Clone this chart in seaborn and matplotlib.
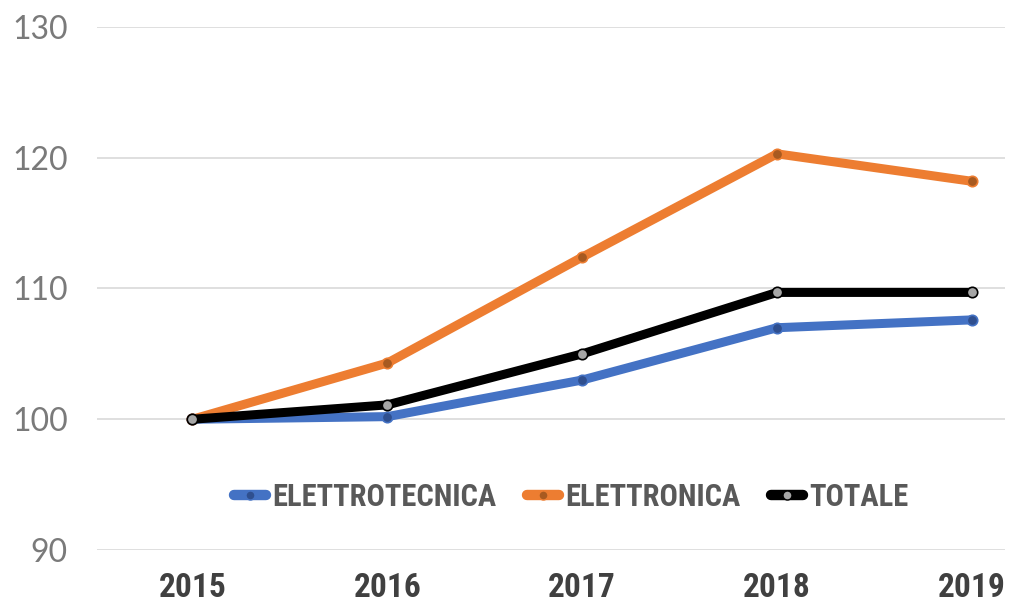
import matplotlib
matplotlib.use("Agg")
import matplotlib.pyplot as plt
import seaborn as sns
import pandas as pd
from matplotlib.lines import Line2D

years = ["2015", "2016", "2017", "2018", "2019"]
elettrotecnica = [100.0, 100.2, 103.0, 107.0, 107.6]
elettronica = [100.0, 104.3, 112.4, 120.3, 118.2]
totale = [100.0, 101.1, 105.0, 109.7, 109.7]
series_names = ["ELETTROTECNICA", "ELETTRONICA", "TOTALE"]
colors = ["#4472C4", "#ED7D31", "#000000"]
marker_faces = ["#2F4F8F", "#A85A20", "#A6A6A6"]
y_ticks = [90, 100, 110, 120, 130]

sns.set_theme(style="white")
cond = ['Roboto Condensed', 'Liberation Sans Narrow', 'Roboto', 'DejaVu Sans']
plt.rcParams['font.family'] = cond

fig = plt.figure(figsize=(10.12, 6.04), dpi=100)
ax = fig.add_axes([97/1012, 1-550/604, (1005-97)/1012, (550-27)/604])

for name, vals, col, mf in zip(series_names, [elettrotecnica, elettronica, totale], colors, marker_faces):
    df = pd.DataFrame({"x": list(range(len(years))), "y": vals})
    sns.lineplot(data=df, x="x", y="y", ax=ax, color=col, linewidth=6.5,
                 marker="o", markersize=7.5, markerfacecolor=mf, markeredgecolor=col,
                 markeredgewidth=1.2, clip_on=False, zorder=3,
                 solid_capstyle="round", solid_joinstyle="round")

ax.set_xlim(-0.49, 4.17)
ax.set_ylim(90, 130)
ax.set_yticks(y_ticks)
ax.set_yticklabels([str(v) for v in y_ticks], family=["Lato", "DejaVu Sans"],
                   fontweight="normal", fontsize=23, color="#7A7A7A")
ax.set_xticks(range(len(years)))
ax.set_xticklabels(years, fontsize=24, fontweight="bold", color="#404040")
ax.tick_params(axis="y", length=0, pad=21)
ax.tick_params(axis="x", length=0, pad=16)
ax.grid(axis="y", color="#D9D9D9", linewidth=1.2)
ax.grid(axis="x", visible=False)
for s in ax.spines.values():
    s.set_visible(False)
ax.set_xlabel("")
ax.set_ylabel("")

handles = [Line2D([0], [0], color=c, linewidth=7.5, marker="o", markersize=6.5,
                  markerfacecolor=mf, markeredgecolor=c, solid_capstyle="round")
           for c, mf in zip(colors, marker_faces)]
leg = ax.legend(handles, series_names, loc="center", bbox_to_anchor=(0.522, 0.101),
                ncol=3, frameon=False, handlelength=1.05, handletextpad=0.2,
                columnspacing=1.0, borderpad=0, borderaxespad=0,
                prop={"family": cond, "weight": "bold", "size": 22})
for t in leg.get_texts():
    t.set_color("#595959")

fig.savefig("out.png", dpi=100, facecolor="white")
